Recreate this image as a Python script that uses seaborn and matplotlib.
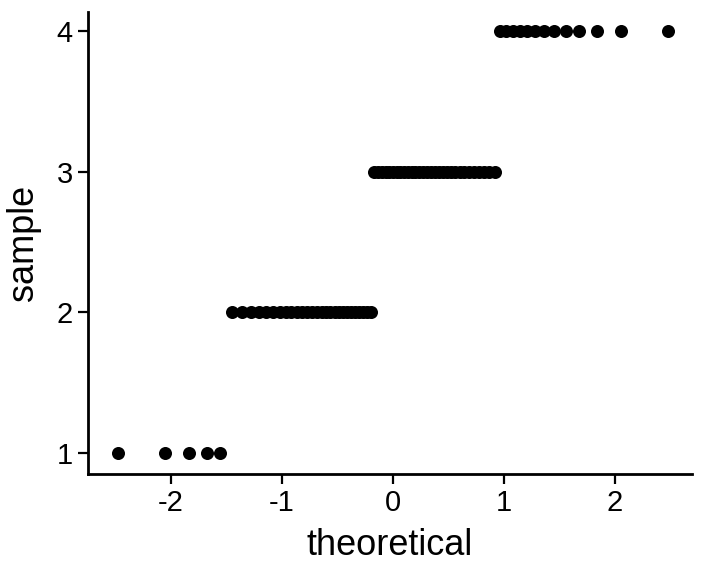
import numpy as np
import pandas as pd
import matplotlib
matplotlib.use("Agg")
import matplotlib.pyplot as plt
import seaborn as sns
from statistics import NormalDist

# Sample values (discrete levels) and how many observations at each level
levels = [1, 2, 3, 4]
counts = [5, 27, 30, 13]
y_ticks = [1, 2, 3, 4]
x_ticks = [-2, -1, 0, 1, 2]

sample = np.sort(np.repeat(levels, counts))
n = len(sample)
nd = NormalDist()
theoretical = np.array([nd.inv_cdf((i - 0.5) / n) for i in range(1, n + 1)])
df = pd.DataFrame({"theoretical": theoretical, "sample": sample})

sns.set_theme(style="ticks")
plt.rcParams["font.family"] = ["Liberation Sans", "DejaVu Sans"]

fig = plt.figure(figsize=(7.06, 5.76), dpi=100)
ax = fig.add_axes([88 / 706, 1 - 474 / 576, (692 - 88) / 706, (474 - 12) / 576])

sns.scatterplot(data=df, x="theoretical", y="sample", ax=ax, color="black",
                s=88, linewidth=0, legend=False)

ax.set_xlim(-2.748, 2.694)
ax.set_ylim(0.851, 4.135)
ax.set_xticks(x_ticks)
ax.set_yticks(y_ticks)
ax.set_xticklabels([str(v) for v in x_ticks])
ax.set_yticklabels([str(v) for v in y_ticks])
for s in ["top", "right"]:
    ax.spines[s].set_visible(False)
for s in ["left", "bottom"]:
    ax.spines[s].set_linewidth(2)
    ax.spines[s].set_color("black")
ax.tick_params(axis="both", length=7, width=1.6, colors="black", labelsize=21, pad=4)
ax.set_xlabel("theoretical", fontsize=26, color="black", labelpad=8)
ax.set_ylabel("sample", fontsize=26, color="black", labelpad=11)

fig.savefig("out.png", dpi=100)
